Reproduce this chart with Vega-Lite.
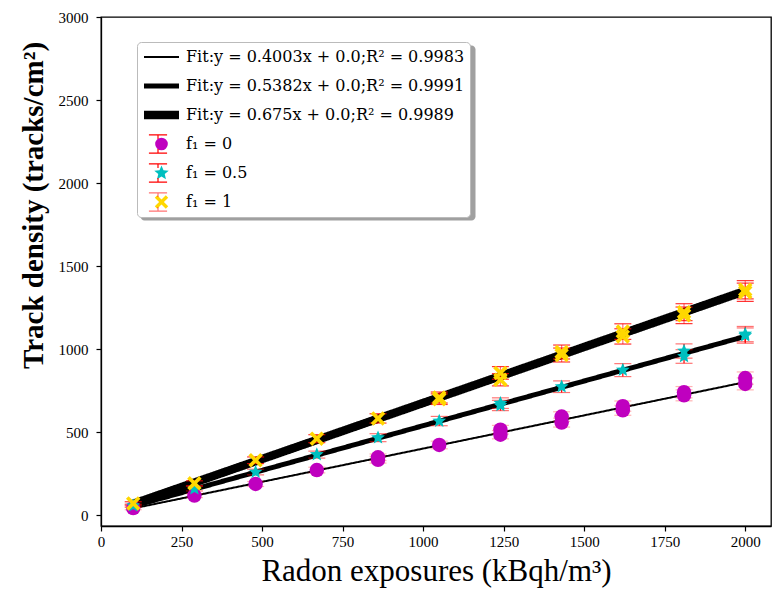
{
  "$schema": "https://vega.github.io/schema/vega-lite/v6.json",
  "width": 670,
  "height": 509,
  "autosize": {"type": "none"},
  "padding": {"left": 101, "top": 17, "right": 3, "bottom": 65},
  "background": "white",
  "config": {
    "view": {"stroke": "black", "strokeWidth": 1.3},
    "font": "Liberation Serif",
    "axis": {
      "grid": false, "labelFont": "Liberation Serif", "labelFontSize": 15, "labelColor": "black",
      "tickColor": "black", "tickSize": 5, "tickWidth": 1.2, "domainColor": "black", "domainWidth": 1.3,
      "titleColor": "black", "titleFont": "Liberation Serif", "labelFlush": false, "labelOverlap": false
    }
  },
  "datasets": {
    "fits": [
      {"s": "Fit:y = 0.4003x + 0.0;R² = 0.9983", "x": 100, "y": 40.03},
      {"s": "Fit:y = 0.4003x + 0.0;R² = 0.9983", "x": 2000, "y": 800.6},
      {"s": "Fit:y = 0.5382x + 0.0;R² = 0.9991", "x": 100, "y": 53.82},
      {"s": "Fit:y = 0.5382x + 0.0;R² = 0.9991", "x": 2000, "y": 1076.4},
      {"s": "Fit:y = 0.675x + 0.0;R² = 0.9989", "x": 100, "y": 67.5},
      {"s": "Fit:y = 0.675x + 0.0;R² = 0.9989", "x": 2000, "y": 1350}
    ],
    "pts": [
      {"s": "f₁ = 0", "x": 100, "y": 42, "lo": 32, "hi": 52},
      {"s": "f₁ = 0", "x": 290, "y": 117, "lo": 105, "hi": 129},
      {"s": "f₁ = 0", "x": 480, "y": 187, "lo": 172, "hi": 202},
      {"s": "f₁ = 0", "x": 670, "y": 271, "lo": 254, "hi": 288},
      {"s": "f₁ = 0", "x": 860, "y": 333, "lo": 313, "hi": 353},
      {"s": "f₁ = 0", "x": 860, "y": 348, "lo": 328, "hi": 368},
      {"s": "f₁ = 0", "x": 1050, "y": 422, "lo": 399, "hi": 445},
      {"s": "f₁ = 0", "x": 1240, "y": 484, "lo": 459, "hi": 509},
      {"s": "f₁ = 0", "x": 1240, "y": 514, "lo": 488, "hi": 540},
      {"s": "f₁ = 0", "x": 1430, "y": 557, "lo": 530, "hi": 584},
      {"s": "f₁ = 0", "x": 1430, "y": 593, "lo": 564, "hi": 622},
      {"s": "f₁ = 0", "x": 1620, "y": 631, "lo": 601, "hi": 661},
      {"s": "f₁ = 0", "x": 1620, "y": 656, "lo": 625, "hi": 687},
      {"s": "f₁ = 0", "x": 1810, "y": 721, "lo": 688, "hi": 754},
      {"s": "f₁ = 0", "x": 1810, "y": 740, "lo": 706, "hi": 774},
      {"s": "f₁ = 0", "x": 2000, "y": 790, "lo": 754, "hi": 826},
      {"s": "f₁ = 0", "x": 2000, "y": 825, "lo": 788, "hi": 862},
      {"s": "f₁ = 0.5", "x": 100, "y": 56, "lo": 46, "hi": 66},
      {"s": "f₁ = 0.5", "x": 290, "y": 159, "lo": 145, "hi": 173},
      {"s": "f₁ = 0.5", "x": 480, "y": 259, "lo": 242, "hi": 276},
      {"s": "f₁ = 0.5", "x": 670, "y": 364, "lo": 343, "hi": 385},
      {"s": "f₁ = 0.5", "x": 860, "y": 466, "lo": 442, "hi": 490},
      {"s": "f₁ = 0.5", "x": 1050, "y": 566, "lo": 538, "hi": 594},
      {"s": "f₁ = 0.5", "x": 1240, "y": 660, "lo": 629, "hi": 691},
      {"s": "f₁ = 0.5", "x": 1240, "y": 674, "lo": 642, "hi": 706},
      {"s": "f₁ = 0.5", "x": 1430, "y": 773, "lo": 738, "hi": 808},
      {"s": "f₁ = 0.5", "x": 1620, "y": 873, "lo": 834, "hi": 912},
      {"s": "f₁ = 0.5", "x": 1810, "y": 955, "lo": 914, "hi": 996},
      {"s": "f₁ = 0.5", "x": 1810, "y": 988, "lo": 945, "hi": 1031},
      {"s": "f₁ = 0.5", "x": 2000, "y": 1081, "lo": 1035, "hi": 1127},
      {"s": "f₁ = 0.5", "x": 2000, "y": 1090, "lo": 1044, "hi": 1136},
      {"s": "f₁ = 1", "x": 100, "y": 70, "lo": 60, "hi": 80},
      {"s": "f₁ = 1", "x": 290, "y": 191, "lo": 176, "hi": 206},
      {"s": "f₁ = 1", "x": 480, "y": 330, "lo": 310, "hi": 350},
      {"s": "f₁ = 1", "x": 670, "y": 460, "lo": 436, "hi": 484},
      {"s": "f₁ = 1", "x": 860, "y": 582, "lo": 554, "hi": 610},
      {"s": "f₁ = 1", "x": 1050, "y": 698, "lo": 666, "hi": 730},
      {"s": "f₁ = 1", "x": 1050, "y": 708, "lo": 675, "hi": 741},
      {"s": "f₁ = 1", "x": 1240, "y": 815, "lo": 778, "hi": 852},
      {"s": "f₁ = 1", "x": 1240, "y": 856, "lo": 818, "hi": 894},
      {"s": "f₁ = 1", "x": 1430, "y": 964, "lo": 922, "hi": 1006},
      {"s": "f₁ = 1", "x": 1430, "y": 982, "lo": 940, "hi": 1024},
      {"s": "f₁ = 1", "x": 1620, "y": 1076, "lo": 1030, "hi": 1122},
      {"s": "f₁ = 1", "x": 1620, "y": 1105, "lo": 1058, "hi": 1152},
      {"s": "f₁ = 1", "x": 1810, "y": 1203, "lo": 1153, "hi": 1253},
      {"s": "f₁ = 1", "x": 1810, "y": 1222, "lo": 1171, "hi": 1273},
      {"s": "f₁ = 1", "x": 2000, "y": 1342, "lo": 1287, "hi": 1397},
      {"s": "f₁ = 1", "x": 2000, "y": 1357, "lo": 1302, "hi": 1412}
    ]
  },
  "layer": [
    {
      "data": {"name": "fits"},
      "mark": {"type": "line", "strokeCap": "butt"},
      "encoding": {
        "x": {"field": "x", "type": "quantitative", "scale": {"domain": [0, 2080], "nice": false, "zero": false},
          "axis": {"values": [0, 250, 500, 750, 1000, 1250, 1500, 1750, 2000], "format": "d", "title": "Radon exposures (kBqh/m³)", "titleFontSize": 31, "titleFontWeight": "normal", "labelPadding": 3, "titlePadding": 7}},
        "y": {"field": "y", "type": "quantitative", "scale": {"domain": [-66, 3000], "nice": false, "zero": false},
          "axis": {"values": [0, 500, 1000, 1500, 2000, 2500, 3000], "format": "d", "title": "Track density (tracks/cm²)", "titleFontSize": 29, "titleFontWeight": "bold", "titleY": 188, "labelPadding": 8, "titlePadding": 10}},
        "color": {"field": "s", "type": "nominal",
          "scale": {"domain": ["Fit:y = 0.4003x + 0.0;R² = 0.9983", "Fit:y = 0.5382x + 0.0;R² = 0.9991", "Fit:y = 0.675x + 0.0;R² = 0.9989", "f₁ = 0", "f₁ = 0.5", "f₁ = 1"], "range": ["black", "black", "black", "#BF00BF", "#00BFBF", "#FFD700"]},
          "legend": {"orient": "none", "legendX": 36, "legendY": 25, "title": null, "padding": 5, "symbolSize": 400, "symbolOffset": 5, "labelOffset": 10, "rowPadding": 9, "clipHeight": 20,
            "labelFont": "DejaVu Serif", "labelFontSize": 16, "labelColor": "black", "labelLimit": 500, "fillColor": "white", "strokeColor": "#bbbbbb", "cornerRadius": 4, "zindex": 1,
            "encode": {"symbols": {"update": {
              "shape": {"signal": "scale('shape', datum.value)"},
              "fill": {"signal": "indexof(['f₁ = 0','f₁ = 0.5','f₁ = 1'], datum.value) >= 0 ? scale('color', datum.value) : 'transparent'"},
              "stroke": {"signal": "indexof(['f₁ = 0','f₁ = 0.5','f₁ = 1'], datum.value) >= 0 ? 'transparent' : 'black'"},
              "strokeWidth": {"signal": "scale('strokeWidth', datum.value)"},
              "size": {"signal": "datum.value == 'f₁ = 0' ? 160 : datum.value == 'f₁ = 0.5' ? 230 : datum.value == 'f₁ = 1' ? 180 : 400"},
              "opacity": {"value": 1}
            }}}}},
        "strokeWidth": {"field": "s", "type": "nominal",
          "scale": {"type": "ordinal", "domain": ["Fit:y = 0.4003x + 0.0;R² = 0.9983", "Fit:y = 0.5382x + 0.0;R² = 0.9991", "Fit:y = 0.675x + 0.0;R² = 0.9989", "f₁ = 0", "f₁ = 0.5", "f₁ = 1"], "range": [2, 5, 8.5, 0, 0, 0]},
          "legend": null},
        "strokeDash": {"field": "s", "type": "nominal",
          "scale": {"domain": ["Fit:y = 0.4003x + 0.0;R² = 0.9983", "Fit:y = 0.5382x + 0.0;R² = 0.9991", "Fit:y = 0.675x + 0.0;R² = 0.9989"], "range": [[1, 0], [1, 0], [1, 0]]},
          "legend": {"orient": "none", "legendX": 39, "legendY": 28, "title": null, "padding": 5, "symbolSize": 104329, "symbolOffset": 0, "labelOffset": 0, "rowPadding": 0, "clipHeight": 55,
            "labelExpr": "''", "fillColor": "#a0a0a0", "strokeColor": "transparent", "cornerRadius": 4, "zindex": 0,
            "encode": {"symbols": {"update": {"opacity": {"value": 0}}}}}}
      }
    },
    {
      "data": {"name": "pts"},
      "mark": {"type": "rule", "color": "red", "strokeWidth": 1.2},
      "encoding": {
        "x": {"field": "x", "type": "quantitative"},
        "y": {"field": "lo", "type": "quantitative"},
        "y2": {"field": "hi"},
        "opacity": {"field": "s", "type": "nominal",
          "scale": {"type": "ordinal", "domain": ["f₁ = 0", "f₁ = 0.5", "f₁ = 1"], "range": [1, 1, 0.55]},
          "legend": {"orient": "none", "legendX": 36, "legendY": 112, "title": null, "padding": 5, "symbolSize": 330, "symbolOffset": 6, "labelOffset": 10, "rowPadding": 9, "clipHeight": 20,
            "symbolType": "M-1,-1L1,-1M0,-1L0,-0.55M0,0.55L0,1M-1,1L1,1", "symbolStrokeColor": "red", "symbolFillColor": "transparent", "symbolStrokeWidth": 1.2,
            "labelFont": "DejaVu Serif", "labelFontSize": 16, "labelExpr": "''", "fillColor": "transparent", "strokeColor": "transparent", "zindex": 2,
            "encode": {"symbols": {"update": {
              "shape": {"value": "M-1,-1L1,-1M0,-1L0,-0.55M0,0.55L0,1M-1,1L1,1"},
              "fill": {"value": "transparent"},
              "stroke": {"value": "red"},
              "strokeWidth": {"value": 1.2},
              "size": {"value": 330}
            }}}}}
      }
    },
    {
      "data": {"name": "pts"},
      "mark": {"type": "tick", "orient": "horizontal", "color": "red", "size": 17, "thickness": 1.2},
      "encoding": {
        "x": {"field": "x", "type": "quantitative"},
        "y": {"field": "lo", "type": "quantitative"},
        "opacity": {"field": "s", "type": "nominal", "legend": null}
      }
    },
    {
      "data": {"name": "pts"},
      "mark": {"type": "tick", "orient": "horizontal", "color": "red", "size": 17, "thickness": 1.2},
      "encoding": {
        "x": {"field": "x", "type": "quantitative"},
        "y": {"field": "hi", "type": "quantitative"},
        "opacity": {"field": "s", "type": "nominal", "legend": null}
      }
    },
    {
      "data": {"name": "pts"},
      "mark": {"type": "point", "filled": true, "opacity": 1, "size": 210},
      "encoding": {
        "x": {"field": "x", "type": "quantitative"},
        "y": {"field": "y", "type": "quantitative"},
        "color": {"field": "s", "type": "nominal", "legend": null},
        "shape": {"field": "s", "type": "nominal",
          "scale": {"domain": ["Fit:y = 0.4003x + 0.0;R² = 0.9983", "Fit:y = 0.5382x + 0.0;R² = 0.9991", "Fit:y = 0.675x + 0.0;R² = 0.9989", "f₁ = 0", "f₁ = 0.5", "f₁ = 1"],
            "range": ["M-1.75,0L1.75,0", "M-1.75,0L1.75,0", "M-1.75,0L1.75,0", "circle", "M0,-1L0.2645,-0.364L0.951,-0.309L0.428,0.139L0.588,0.809L0,0.45L-0.588,0.809L-0.428,0.139L-0.951,-0.309L-0.2645,-0.364Z", "M-1,-0.64L-0.64,-1L0,-0.36L0.64,-1L1,-0.64L0.36,0L1,0.64L0.64,1L0,0.36L-0.64,1L-1,0.64L-0.36,0Z"]},
          "legend": null}
      }
    }
  ]
}
